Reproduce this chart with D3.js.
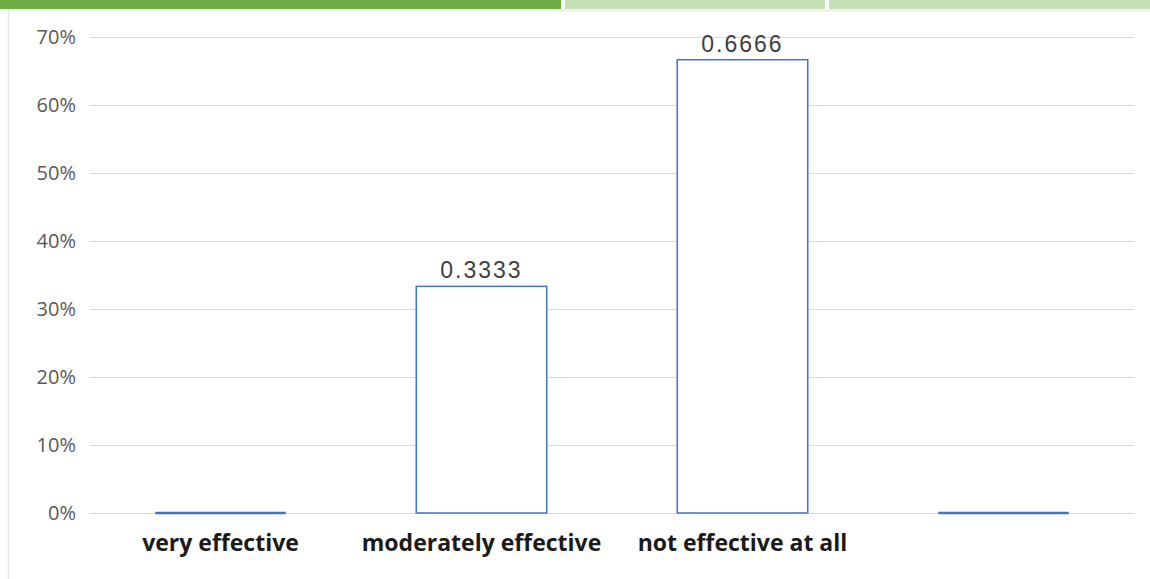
<!DOCTYPE html>
<html>
<head>
    <title>Effectiveness chart</title>
    <script src="https://d3js.org/d3.v7.min.js"></script>
    <style>
        body { margin: 0; background: #fff; }
        .tick-label { font-family: "Open Sans", sans-serif; font-size: 20px; fill: #595959; }
        .cat-label { font-family: "Open Sans", sans-serif; font-weight: bold; font-size: 23px; fill: #1a1a1a; }
        .val-label { font-family: "Liberation Sans", Arial, sans-serif; font-size: 23px; fill: #404040; letter-spacing: 2px; }
    </style>
</head>
<body>
    <svg width="1150" height="579"></svg>

    <script>
        // chart data
        const categories = ["very effective", "moderately effective", "not effective at all", ""];
        const values = [0, 0.3333, 0.6666, 0];
        const yTicks = [0, 0.1, 0.2, 0.3, 0.4, 0.5, 0.6, 0.7];

        const svg = d3.select("svg");

        svg.append("rect")
            .attr("width", 1150).attr("height", 579)
            .attr("fill", "#fff");

        // green header strip
        const strips = [[0, 561, "#70AD47"], [565, 825, "#C5E0B4"], [829, 1150, "#C5E0B4"]];
        svg.selectAll(".strip")
            .data(strips)
            .enter().append("rect")
            .attr("x", d => d[0])
            .attr("y", 0)
            .attr("width", d => d[1] - d[0])
            .attr("height", 9)
            .attr("fill", d => d[2]);

        // frame edges
        svg.append("line")
            .attr("x1", 8).attr("x2", 1150).attr("y1", 10.5).attr("y2", 10.5)
            .attr("stroke", "#ececec").attr("stroke-width", 2);
        svg.append("line")
            .attr("x1", 8.5).attr("x2", 8.5).attr("y1", 10).attr("y2", 579)
            .attr("stroke", "#e3e3e3").attr("stroke-width", 1.5);

        const data = categories.map((c, i) => ({ key: i, name: c, value: values[i] }));

        const x = d3.scaleBand()
            .domain(data.map(d => d.key))
            .range([90, 1134])
            .paddingInner(0.5)
            .paddingOuter(0.25);

        const y = d3.scaleLinear()
            .domain([0, 0.7])
            .range([513, 37]);

        // gridlines
        svg.append("g")
            .selectAll("line")
            .data(yTicks)
            .enter().append("line")
            .attr("x1", 90).attr("x2", 1134)
            .attr("y1", d => Math.round(y(d)) + 0.5)
            .attr("y2", d => Math.round(y(d)) + 0.5)
            .attr("stroke", "#d9d9d9")
            .attr("stroke-width", 1.2);

        // y tick labels
        svg.append("g")
            .selectAll("text")
            .data(yTicks)
            .enter().append("text")
            .attr("class", "tick-label")
            .attr("x", 76)
            .attr("y", d => y(d))
            .attr("dy", "0.35em")
            .attr("text-anchor", "end")
            .text(d => d3.format(".0%")(d));

        // bars
        const bars = data.filter(d => d.value > 0);
        svg.append("g")
            .selectAll("rect")
            .data(bars)
            .enter().append("rect")
            .attr("x", d => x(d.key))
            .attr("y", d => y(d.value))
            .attr("width", x.bandwidth())
            .attr("height", d => y(0) - y(d.value))
            .attr("fill", "#fff")
            .attr("stroke", "#4472C4")
            .attr("stroke-width", 1.5);

        // zero bars show as a flat line
        svg.append("g")
            .selectAll("line")
            .data(data.filter(d => d.value === 0))
            .enter().append("line")
            .attr("x1", d => x(d.key))
            .attr("x2", d => x(d.key) + x.bandwidth())
            .attr("y1", y(0))
            .attr("y2", y(0))
            .attr("stroke", "#4472C4")
            .attr("stroke-width", 2.5);

        // value labels
        svg.append("g")
            .selectAll("text")
            .data(bars)
            .enter().append("text")
            .attr("class", "val-label")
            .attr("x", d => x(d.key) + x.bandwidth() / 2)
            .attr("y", d => y(d.value) - 8)
            .attr("text-anchor", "middle")
            .text(d => d.value.toFixed(4));

        // category labels
        svg.append("g")
            .selectAll("text")
            .data(data)
            .enter().append("text")
            .attr("class", "cat-label")
            .attr("x", d => x(d.key) + x.bandwidth() / 2)
            .attr("y", 551)
            .attr("text-anchor", "middle")
            .text(d => d.name);
    </script>
</body>
</html>
